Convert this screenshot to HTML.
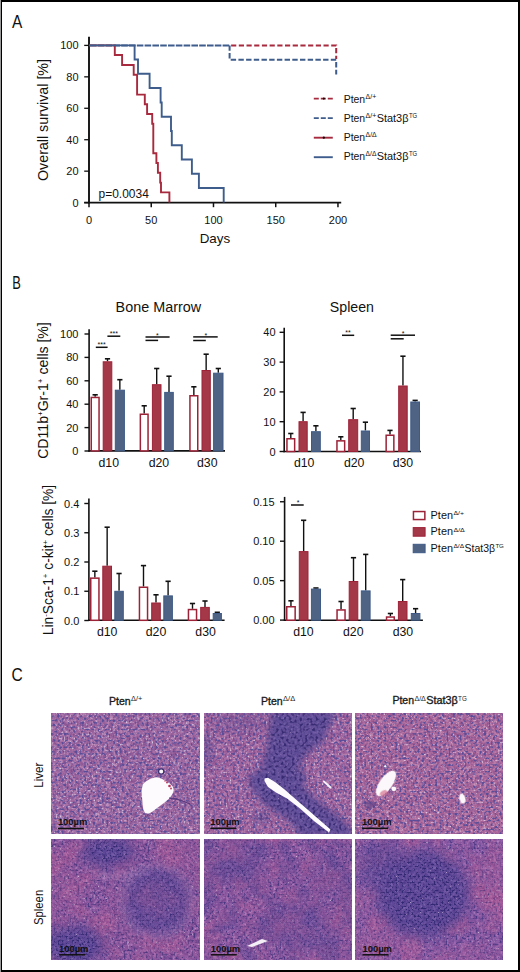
<!DOCTYPE html>
<html><head><meta charset="utf-8"><style>
html,body{margin:0;padding:0;background:#fff;}
svg{display:block;}
text{font-family:"Liberation Sans", sans-serif;}
</style></head><body>
<svg width="520" height="972" viewBox="0 0 520 972" fill="#111">
<defs><filter id="texL1" x="0" y="0" width="100%" height="100%" color-interpolation-filters="sRGB">
<feTurbulence type="fractalNoise" baseFrequency="0.3" numOctaves="3" seed="3"/>
<feColorMatrix type="matrix" values="1 0 0 0 0  1 0 0 0 0  1 0 0 0 0  0 0 0 0 1"/>
<feComponentTransfer result="b"><feFuncR type="table" tableValues=".48 .56 .63 .72 .85"/><feFuncG type="table" tableValues=".29 .34 .41 .52 .70"/><feFuncB type="table" tableValues=".54 .58 .63 .70 .84"/></feComponentTransfer>
<feTurbulence type="fractalNoise" baseFrequency="0.5" numOctaves="1" seed="53"/>
<feColorMatrix type="matrix" values="0 0 0 0 0.84  0 0 0 0 0.78  0 0 0 0 0.9  5.0 0 0 0 -3.050" result="l"/>
<feTurbulence type="fractalNoise" baseFrequency="0.45" numOctaves="1" seed="103"/>
<feColorMatrix type="matrix" values="0 0 0 0 0.35  0 0 0 0 0.3  0 0 0 0 0.6  5.0 0 0 0 -2.500" result="n"/>
<feMerge><feMergeNode in="b"/><feMergeNode in="l"/><feMergeNode in="n"/></feMerge>
</filter><filter id="texL2" x="0" y="0" width="100%" height="100%" color-interpolation-filters="sRGB">
<feTurbulence type="fractalNoise" baseFrequency="0.3" numOctaves="3" seed="11"/>
<feColorMatrix type="matrix" values="1 0 0 0 0  1 0 0 0 0  1 0 0 0 0  0 0 0 0 1"/>
<feComponentTransfer result="b"><feFuncR type="table" tableValues=".49 .57 .64 .73 .85"/><feFuncG type="table" tableValues=".28 .33 .40 .51 .69"/><feFuncB type="table" tableValues=".53 .57 .62 .69 .83"/></feComponentTransfer>
<feTurbulence type="fractalNoise" baseFrequency="0.5" numOctaves="1" seed="61"/>
<feColorMatrix type="matrix" values="0 0 0 0 0.86  0 0 0 0 0.76  0 0 0 0 0.88  5.0 0 0 0 -3.050" result="l"/>
<feTurbulence type="fractalNoise" baseFrequency="0.45" numOctaves="1" seed="111"/>
<feColorMatrix type="matrix" values="0 0 0 0 0.35  0 0 0 0 0.3  0 0 0 0 0.6  5.0 0 0 0 -2.500" result="n"/>
<feMerge><feMergeNode in="b"/><feMergeNode in="l"/><feMergeNode in="n"/></feMerge>
</filter><filter id="texL3" x="0" y="0" width="100%" height="100%" color-interpolation-filters="sRGB">
<feTurbulence type="fractalNoise" baseFrequency="0.3" numOctaves="3" seed="21"/>
<feColorMatrix type="matrix" values="1 0 0 0 0  1 0 0 0 0  1 0 0 0 0  0 0 0 0 1"/>
<feComponentTransfer result="b"><feFuncR type="table" tableValues=".51 .59 .67 .75 .86"/><feFuncG type="table" tableValues=".28 .34 .41 .52 .70"/><feFuncB type="table" tableValues=".51 .56 .61 .68 .82"/></feComponentTransfer>
<feTurbulence type="fractalNoise" baseFrequency="0.5" numOctaves="1" seed="71"/>
<feColorMatrix type="matrix" values="0 0 0 0 0.88  0 0 0 0 0.76  0 0 0 0 0.88  5.0 0 0 0 -3.050" result="l"/>
<feTurbulence type="fractalNoise" baseFrequency="0.45" numOctaves="1" seed="121"/>
<feColorMatrix type="matrix" values="0 0 0 0 0.35  0 0 0 0 0.3  0 0 0 0 0.6  5.0 0 0 0 -2.500" result="n"/>
<feMerge><feMergeNode in="b"/><feMergeNode in="l"/><feMergeNode in="n"/></feMerge>
</filter><filter id="texD" x="0" y="0" width="100%" height="100%" color-interpolation-filters="sRGB">
<feTurbulence type="fractalNoise" baseFrequency="0.35" numOctaves="3" seed="5"/>
<feColorMatrix type="matrix" values="1 0 0 0 0  1 0 0 0 0  1 0 0 0 0  0 0 0 0 1"/>
<feComponentTransfer result="b"><feFuncR type="table" tableValues=".30 .36 .42 .55"/><feFuncG type="table" tableValues=".24 .29 .34 .46"/><feFuncB type="table" tableValues=".52 .58 .63 .72"/></feComponentTransfer>
<feTurbulence type="fractalNoise" baseFrequency="0.5" numOctaves="1" seed="55"/>
<feColorMatrix type="matrix" values="0 0 0 0 0.86  0 0 0 0 0.78  0 0 0 0 0.9  5.0 0 0 0 -3.750" result="l"/>
<feTurbulence type="fractalNoise" baseFrequency="0.38" numOctaves="1" seed="105"/>
<feColorMatrix type="matrix" values="0 0 0 0 0.22  0 0 0 0 0.17  0 0 0 0 0.45  5.0 0 0 0 -2.500" result="n"/>
<feMerge><feMergeNode in="b"/><feMergeNode in="l"/><feMergeNode in="n"/></feMerge>
</filter><filter id="texS1" x="0" y="0" width="100%" height="100%" color-interpolation-filters="sRGB">
<feTurbulence type="fractalNoise" baseFrequency="0.3" numOctaves="3" seed="8"/>
<feColorMatrix type="matrix" values="1 0 0 0 0  1 0 0 0 0  1 0 0 0 0  0 0 0 0 1"/>
<feComponentTransfer result="b"><feFuncR type="table" tableValues=".38 .46 .54 .64 .78"/><feFuncG type="table" tableValues=".24 .28 .34 .43 .58"/><feFuncB type="table" tableValues=".52 .57 .62 .69 .80"/></feComponentTransfer>
<feTurbulence type="fractalNoise" baseFrequency="0.5" numOctaves="1" seed="58"/>
<feColorMatrix type="matrix" values="0 0 0 0 0.86  0 0 0 0 0.78  0 0 0 0 0.9  5.0 0 0 0 -3.300" result="l"/>
<feTurbulence type="fractalNoise" baseFrequency="0.5" numOctaves="1" seed="108"/>
<feColorMatrix type="matrix" values="0 0 0 0 0.3  0 0 0 0 0.22  0 0 0 0 0.5  5.0 0 0 0 -2.600" result="n"/>
<feMerge><feMergeNode in="b"/><feMergeNode in="l"/><feMergeNode in="n"/></feMerge>
</filter><filter id="texS2" x="0" y="0" width="100%" height="100%" color-interpolation-filters="sRGB">
<feTurbulence type="fractalNoise" baseFrequency="0.3" numOctaves="3" seed="13"/>
<feColorMatrix type="matrix" values="1 0 0 0 0  1 0 0 0 0  1 0 0 0 0  0 0 0 0 1"/>
<feComponentTransfer result="b"><feFuncR type="table" tableValues=".40 .48 .56 .66 .79"/><feFuncG type="table" tableValues=".25 .29 .35 .44 .59"/><feFuncB type="table" tableValues=".53 .58 .63 .70 .80"/></feComponentTransfer>
<feTurbulence type="fractalNoise" baseFrequency="0.5" numOctaves="1" seed="63"/>
<feColorMatrix type="matrix" values="0 0 0 0 0.86  0 0 0 0 0.78  0 0 0 0 0.9  5.0 0 0 0 -3.300" result="l"/>
<feTurbulence type="fractalNoise" baseFrequency="0.5" numOctaves="1" seed="113"/>
<feColorMatrix type="matrix" values="0 0 0 0 0.3  0 0 0 0 0.22  0 0 0 0 0.5  5.0 0 0 0 -2.650" result="n"/>
<feMerge><feMergeNode in="b"/><feMergeNode in="l"/><feMergeNode in="n"/></feMerge>
</filter><filter id="texS3" x="0" y="0" width="100%" height="100%" color-interpolation-filters="sRGB">
<feTurbulence type="fractalNoise" baseFrequency="0.3" numOctaves="3" seed="17"/>
<feColorMatrix type="matrix" values="1 0 0 0 0  1 0 0 0 0  1 0 0 0 0  0 0 0 0 1"/>
<feComponentTransfer result="b"><feFuncR type="table" tableValues=".38 .45 .53 .63 .77"/><feFuncG type="table" tableValues=".25 .29 .35 .43 .58"/><feFuncB type="table" tableValues=".54 .59 .64 .71 .81"/></feComponentTransfer>
<feTurbulence type="fractalNoise" baseFrequency="0.5" numOctaves="1" seed="67"/>
<feColorMatrix type="matrix" values="0 0 0 0 0.86  0 0 0 0 0.78  0 0 0 0 0.9  5.0 0 0 0 -3.300" result="l"/>
<feTurbulence type="fractalNoise" baseFrequency="0.5" numOctaves="1" seed="117"/>
<feColorMatrix type="matrix" values="0 0 0 0 0.29  0 0 0 0 0.22  0 0 0 0 0.52  5.0 0 0 0 -2.600" result="n"/>
<feMerge><feMergeNode in="b"/><feMergeNode in="l"/><feMergeNode in="n"/></feMerge>
</filter><filter id="texSD" x="0" y="0" width="100%" height="100%" color-interpolation-filters="sRGB">
<feTurbulence type="fractalNoise" baseFrequency="0.3" numOctaves="3" seed="19"/>
<feColorMatrix type="matrix" values="1 0 0 0 0  1 0 0 0 0  1 0 0 0 0  0 0 0 0 1"/>
<feComponentTransfer result="b"><feFuncR type="table" tableValues=".26 .32 .38 .46 .56"/><feFuncG type="table" tableValues=".20 .24 .29 .36 .46"/><feFuncB type="table" tableValues=".50 .55 .60 .66 .74"/></feComponentTransfer>
<feTurbulence type="fractalNoise" baseFrequency="0.5" numOctaves="1" seed="69"/>
<feColorMatrix type="matrix" values="0 0 0 0 0.86  0 0 0 0 0.78  0 0 0 0 0.9  5.0 0 0 0 -3.600" result="l"/>
<feTurbulence type="fractalNoise" baseFrequency="0.5" numOctaves="1" seed="119"/>
<feColorMatrix type="matrix" values="0 0 0 0 0.2  0 0 0 0 0.16  0 0 0 0 0.45  5.0 0 0 0 -2.500" result="n"/>
<feMerge><feMergeNode in="b"/><feMergeNode in="l"/><feMergeNode in="n"/></feMerge>
</filter><filter id="texSP" x="0" y="0" width="100%" height="100%" color-interpolation-filters="sRGB">
<feTurbulence type="fractalNoise" baseFrequency="0.3" numOctaves="3" seed="23"/>
<feColorMatrix type="matrix" values="1 0 0 0 0  1 0 0 0 0  1 0 0 0 0  0 0 0 0 1"/>
<feComponentTransfer result="b"><feFuncR type="table" tableValues=".50 .58 .66 .75 .84"/><feFuncG type="table" tableValues=".26 .30 .36 .45 .58"/><feFuncB type="table" tableValues=".50 .55 .60 .66 .74"/></feComponentTransfer>
<feTurbulence type="fractalNoise" baseFrequency="0.5" numOctaves="1" seed="73"/>
<feColorMatrix type="matrix" values="0 0 0 0 0.86  0 0 0 0 0.78  0 0 0 0 0.9  5.0 0 0 0 -3.300" result="l"/>
<feTurbulence type="fractalNoise" baseFrequency="0.5" numOctaves="1" seed="123"/>
<feColorMatrix type="matrix" values="0 0 0 0 0.36  0 0 0 0 0.22  0 0 0 0 0.48  5.0 0 0 0 -2.900" result="n"/>
<feMerge><feMergeNode in="b"/><feMergeNode in="l"/><feMergeNode in="n"/></feMerge>
</filter><filter id="texSL" x="0" y="0" width="100%" height="100%" color-interpolation-filters="sRGB">
<feTurbulence type="fractalNoise" baseFrequency="0.3" numOctaves="3" seed="29"/>
<feColorMatrix type="matrix" values="1 0 0 0 0  1 0 0 0 0  1 0 0 0 0  0 0 0 0 1"/>
<feComponentTransfer result="b"><feFuncR type="table" tableValues=".50 .58 .66 .74 .84"/><feFuncG type="table" tableValues=".38 .44 .50 .58 .70"/><feFuncB type="table" tableValues=".64 .68 .72 .78 .86"/></feComponentTransfer>
<feTurbulence type="fractalNoise" baseFrequency="0.5" numOctaves="1" seed="79"/>
<feColorMatrix type="matrix" values="0 0 0 0 0.86  0 0 0 0 0.78  0 0 0 0 0.9  5.0 0 0 0 -3.200" result="l"/>
<feTurbulence type="fractalNoise" baseFrequency="0.5" numOctaves="1" seed="129"/>
<feColorMatrix type="matrix" values="0 0 0 0 0.32  0 0 0 0 0.24  0 0 0 0 0.54  5.0 0 0 0 -2.800" result="n"/>
<feMerge><feMergeNode in="b"/><feMergeNode in="l"/><feMergeNode in="n"/></feMerge>
</filter><filter id="blur1"><feGaussianBlur stdDeviation="0.7"/></filter><filter id="blur3" x="-50%" y="-50%" width="200%" height="200%"><feGaussianBlur stdDeviation="3"/></filter><filter id="blur6" x="-50%" y="-50%" width="200%" height="200%"><feGaussianBlur stdDeviation="6"/></filter><filter id="blur9" x="-50%" y="-50%" width="200%" height="200%"><feGaussianBlur stdDeviation="9"/></filter><clipPath id="clipL1"><rect x="51" y="713" width="149" height="121"/></clipPath><clipPath id="clipL2"><rect x="204" y="713" width="148" height="121"/></clipPath><clipPath id="clipL3"><rect x="355" y="713" width="148" height="121"/></clipPath><clipPath id="clipS1"><rect x="51" y="839" width="149" height="121"/></clipPath><clipPath id="clipS2"><rect x="204" y="839" width="148" height="121"/></clipPath><clipPath id="clipS3"><rect x="355" y="839" width="148" height="121"/></clipPath><filter id="lfn" x="0" y="0" width="100%" height="100%" color-interpolation-filters="sRGB"><feTurbulence type="fractalNoise" baseFrequency="0.045" numOctaves="2" seed="31"/><feColorMatrix type="matrix" values="3.2 0 0 0 -1.25  3.2 0 0 0 -1.25  3.2 0 0 0 -1.25  0 0 0 0 1"/></filter><filter id="lfn2" x="0" y="0" width="100%" height="100%" color-interpolation-filters="sRGB"><feTurbulence type="fractalNoise" baseFrequency="0.05" numOctaves="2" seed="47"/><feColorMatrix type="matrix" values="3.2 0 0 0 -1.3  3.2 0 0 0 -1.3  3.2 0 0 0 -1.3  0 0 0 0 1"/></filter><mask id="mSpk" maskUnits="userSpaceOnUse" x="0" y="600" width="520" height="372"><rect x="51" y="839" width="452" height="121" filter="url(#lfn)" opacity="0.7"/></mask><mask id="mSdk" maskUnits="userSpaceOnUse" x="0" y="600" width="520" height="372"><rect x="51" y="839" width="452" height="121" filter="url(#lfn2)" opacity="0.5"/></mask><mask id="mLpk" maskUnits="userSpaceOnUse" x="0" y="600" width="520" height="372"><rect x="51" y="713" width="452" height="121" filter="url(#lfn)" opacity="0.45"/></mask><mask id="mL2" maskUnits="userSpaceOnUse" x="0" y="600" width="520" height="372"><path d="M272,711 L269,727 L268,741 L265,756 L261,770 L249.5,775 L249.5,787 L258,795 L261,801 L275,812 L283.7,816 L298,830 L298,836 L354,836 L352,830 L337.7,816 L318,801 L303.6,787 L306.4,773 L298,770 L304,756 L323,741 L329,727 L337,711 Z" fill="#fff" filter="url(#blur3)"/><ellipse cx="262" cy="818" rx="7" ry="5" fill="#fff" filter="url(#blur3)" opacity="0.7"/><ellipse cx="207" cy="750" rx="5" ry="20" fill="#fff" filter="url(#blur3)" opacity="0.5"/><ellipse cx="240" cy="722" rx="25" ry="10" fill="#fff" filter="url(#blur6)" opacity="0.35"/></mask><mask id="mS1d" maskUnits="userSpaceOnUse" x="0" y="600" width="520" height="372"><ellipse cx="108" cy="852" rx="26" ry="15" fill="#fff" filter="url(#blur6)"/><circle cx="157" cy="901" r="25" fill="none" stroke="#fff" stroke-width="12" filter="url(#blur6)"/><circle cx="157" cy="901" r="18" fill="#fff" filter="url(#blur6)" opacity="0.55"/><ellipse cx="74" cy="946" rx="30" ry="20" fill="#fff" filter="url(#blur6)"/></mask><mask id="mS1p" maskUnits="userSpaceOnUse" x="0" y="600" width="520" height="372"><ellipse cx="64" cy="885" rx="12" ry="22" fill="#fff" filter="url(#blur6)" opacity="0.45"/><ellipse cx="188" cy="858" rx="14" ry="20" fill="#fff" filter="url(#blur6)" opacity="0.4"/><ellipse cx="110" cy="925" rx="12" ry="8" fill="#fff" filter="url(#blur6)" opacity="0.3"/></mask><mask id="mS1l" maskUnits="userSpaceOnUse" x="0" y="600" width="520" height="372"><circle cx="157" cy="901" r="34" fill="none" stroke="#fff" stroke-width="6" filter="url(#blur3)" opacity="0.5"/><path d="M95,875 Q130,880 150,868" fill="none" stroke="#fff" stroke-width="8" filter="url(#blur3)" opacity="0.4"/></mask><mask id="mS2d" maskUnits="userSpaceOnUse" x="0" y="600" width="520" height="372"><ellipse cx="240" cy="865" rx="30" ry="22" fill="#fff" filter="url(#blur9)" opacity="0.35"/><ellipse cx="300" cy="930" rx="40" ry="22" fill="#fff" filter="url(#blur9)" opacity="0.35"/><ellipse cx="330" cy="880" rx="20" ry="25" fill="#fff" filter="url(#blur9)" opacity="0.25"/></mask><mask id="mS3d" maskUnits="userSpaceOnUse" x="0" y="600" width="520" height="372"><ellipse cx="423" cy="894" rx="46" ry="43" fill="#fff" filter="url(#blur6)"/><ellipse cx="382" cy="866" rx="22" ry="26" fill="#fff" filter="url(#blur6)" opacity="0.6"/></mask><mask id="mS3p" maskUnits="userSpaceOnUse" x="0" y="600" width="520" height="372"><ellipse cx="494" cy="885" rx="12" ry="40" fill="#fff" filter="url(#blur6)" opacity="0.6"/><ellipse cx="372" cy="945" rx="24" ry="14" fill="#fff" filter="url(#blur6)" opacity="0.55"/><ellipse cx="362" cy="905" rx="9" ry="15" fill="#fff" filter="url(#blur6)" opacity="0.45"/><ellipse cx="455" cy="955" rx="30" ry="8" fill="#fff" filter="url(#blur6)" opacity="0.4"/></mask></defs>
<rect x="0" y="0" width="520" height="972" fill="#000"/>
<rect x="0" y="0" width="1" height="972" fill="#9a9a9a"/>
<rect x="2" y="2" width="516" height="968" fill="#fff"/>
<text x="12.00" y="27.50" font-size="18" textLength="10.30" lengthAdjust="spacingAndGlyphs" >A</text>
<line x1="89.00" y1="36.70" x2="89.00" y2="203.40" stroke="#111" stroke-width="1.9" />
<line x1="84.20" y1="202.60" x2="341.20" y2="202.60" stroke="#111" stroke-width="1.9" />
<line x1="84.20" y1="45.40" x2="89.00" y2="45.40" stroke="#111" stroke-width="1.3" />
<text x="78.60" y="49.30" font-size="11" text-anchor="end" >100</text>
<line x1="84.20" y1="76.84" x2="89.00" y2="76.84" stroke="#111" stroke-width="1.3" />
<text x="78.60" y="80.74" font-size="11" text-anchor="end" >80</text>
<line x1="84.20" y1="108.28" x2="89.00" y2="108.28" stroke="#111" stroke-width="1.3" />
<text x="78.60" y="112.18" font-size="11" text-anchor="end" >60</text>
<line x1="84.20" y1="139.72" x2="89.00" y2="139.72" stroke="#111" stroke-width="1.3" />
<text x="78.60" y="143.62" font-size="11" text-anchor="end" >40</text>
<line x1="84.20" y1="171.16" x2="89.00" y2="171.16" stroke="#111" stroke-width="1.3" />
<text x="78.60" y="175.06" font-size="11" text-anchor="end" >20</text>
<line x1="84.20" y1="202.60" x2="89.00" y2="202.60" stroke="#111" stroke-width="1.3" />
<text x="78.60" y="206.50" font-size="11" text-anchor="end" >0</text>
<line x1="89.00" y1="202.60" x2="89.00" y2="207.20" stroke="#111" stroke-width="1.5" />
<text x="89.00" y="223.80" font-size="11" text-anchor="middle" >0</text>
<line x1="151.24" y1="202.60" x2="151.24" y2="207.20" stroke="#111" stroke-width="1.5" />
<text x="151.24" y="223.80" font-size="11" text-anchor="middle" >50</text>
<line x1="213.48" y1="202.60" x2="213.48" y2="207.20" stroke="#111" stroke-width="1.5" />
<text x="213.48" y="223.80" font-size="11" text-anchor="middle" >100</text>
<line x1="275.72" y1="202.60" x2="275.72" y2="207.20" stroke="#111" stroke-width="1.5" />
<text x="275.72" y="223.80" font-size="11" text-anchor="middle" >150</text>
<line x1="337.96" y1="202.60" x2="337.96" y2="207.20" stroke="#111" stroke-width="1.5" />
<text x="337.96" y="223.80" font-size="11" text-anchor="middle" >200</text>
<text x="199.70" y="243.20" font-size="13.5" textLength="30.50" lengthAdjust="spacingAndGlyphs" >Days</text>
<text x="98.60" y="197.60" font-size="12" textLength="50.20" lengthAdjust="spacingAndGlyphs" >p=0.0034</text>
<text transform="translate(48.3,120) rotate(-90)" font-size="14" text-anchor="middle" textLength="122" lengthAdjust="spacingAndGlyphs">Overall survival [%]</text>
<path d="M229.6,45.4 H336.2 V59" fill="none" stroke="#a82a3e" stroke-width="2" stroke-dasharray="5.2 2.5" stroke-dashoffset="-1.5"/>
<path d="M89,45.4 H229.6" fill="none" stroke="#3f5d8c" stroke-width="2" stroke-dasharray="6.6 1.2" stroke-dashoffset="-1"/>
<path d="M229.6,45.4 V59.7 H336.2 V74.5" fill="none" stroke="#3f5d8c" stroke-width="2" stroke-dasharray="5.4 2.3"/>
<path d="M89,45.4 H114.8 V55 H122.1 V65 H133.7 V74.8 H137.1 V94.6 H144.8 V104.2 H147.1 V114 H152.2 V123.7 H153.3 V153.3 H156.4 V163 H157.9 V172.8 H160.2 V182.6 H161 V192.4 H169.4 V202.4" fill="none" stroke="#a82a3e" stroke-width="1.9"/>
<path d="M89,45.4 H134.6 V59.5 H138 V73.7 H149.6 V88 H160.6 V102.5 H161.7 V116.8 H171 V131 H171.8 V145.3 H181.8 V159.5 H191.9 V173.8 H198.9 V188 H223.7 V202.4" fill="none" stroke="#3f5d8c" stroke-width="1.9"/>
<line x1="313.8" y1="98.6" x2="332.8" y2="98.6" stroke="#a82a3e" stroke-width="1.9" stroke-dasharray="5 2"/>
<circle cx="323.8" cy="98.6" r="1.1" fill="#000"/>
<line x1="313.8" y1="118.1" x2="332.8" y2="118.1" stroke="#3f5d8c" stroke-width="1.9" stroke-dasharray="5 2"/>
<line x1="313.8" y1="137.7" x2="332.8" y2="137.7" stroke="#a82a3e" stroke-width="1.9"/>
<circle cx="323.8" cy="137.7" r="1.1" fill="#000"/>
<line x1="313.8" y1="157.2" x2="332.8" y2="157.2" stroke="#3f5d8c" stroke-width="1.9"/>
<text x="343.70" y="102.50" font-size="11"><tspan textLength="21.5" lengthAdjust="spacingAndGlyphs">Pten</tspan><tspan x="365.60" y="98.54" font-size="6.8" textLength="10.7" lengthAdjust="spacingAndGlyphs">Δ/+</tspan></text>
<text x="343.70" y="121.50" font-size="11"><tspan textLength="21.5" lengthAdjust="spacingAndGlyphs">Pten</tspan><tspan x="365.60" y="117.54" font-size="6.8" textLength="10.8" lengthAdjust="spacingAndGlyphs">Δ/+</tspan><tspan x="376.70" y="121.50" textLength="31.8" lengthAdjust="spacingAndGlyphs">Stat3β</tspan><tspan x="408.90" y="117.54" font-size="6.8" textLength="8.2" lengthAdjust="spacingAndGlyphs">TG</tspan></text>
<text x="343.70" y="141.20" font-size="11"><tspan textLength="21.5" lengthAdjust="spacingAndGlyphs">Pten</tspan><tspan x="365.60" y="137.24" font-size="6.8" textLength="11.1" lengthAdjust="spacingAndGlyphs">Δ/Δ</tspan></text>
<text x="343.70" y="160.40" font-size="11"><tspan textLength="21.5" lengthAdjust="spacingAndGlyphs">Pten</tspan><tspan x="365.60" y="156.44" font-size="6.8" textLength="10.8" lengthAdjust="spacingAndGlyphs">Δ/Δ</tspan><tspan x="376.70" y="160.40" textLength="31.8" lengthAdjust="spacingAndGlyphs">Stat3β</tspan><tspan x="408.90" y="156.44" font-size="6.8" textLength="8.2" lengthAdjust="spacingAndGlyphs">TG</tspan></text>
<text x="12.20" y="288.70" font-size="18" textLength="8.60" lengthAdjust="spacingAndGlyphs" >B</text>
<text x="115.60" y="311.90" font-size="14" textLength="85.50" lengthAdjust="spacingAndGlyphs" >Bone Marrow</text>
<text x="329.80" y="311.60" font-size="14" textLength="44.20" lengthAdjust="spacingAndGlyphs" >Spleen</text>
<line x1="89.10" y1="329.20" x2="89.10" y2="451.70" stroke="#111" stroke-width="1.6" />
<line x1="88.30" y1="450.90" x2="225.00" y2="450.90" stroke="#111" stroke-width="1.6" />
<line x1="84.50" y1="334.00" x2="89.10" y2="334.00" stroke="#111" stroke-width="1.4" />
<text x="78.40" y="338.00" font-size="11" text-anchor="end" >100</text>
<line x1="84.50" y1="357.40" x2="89.10" y2="357.40" stroke="#111" stroke-width="1.4" />
<text x="78.40" y="361.40" font-size="11" text-anchor="end" >80</text>
<line x1="84.50" y1="380.80" x2="89.10" y2="380.80" stroke="#111" stroke-width="1.4" />
<text x="78.40" y="384.80" font-size="11" text-anchor="end" >60</text>
<line x1="84.50" y1="404.20" x2="89.10" y2="404.20" stroke="#111" stroke-width="1.4" />
<text x="78.40" y="408.20" font-size="11" text-anchor="end" >40</text>
<line x1="84.50" y1="427.60" x2="89.10" y2="427.60" stroke="#111" stroke-width="1.4" />
<text x="78.40" y="431.60" font-size="11" text-anchor="end" >20</text>
<line x1="84.50" y1="451.00" x2="89.10" y2="451.00" stroke="#111" stroke-width="1.4" />
<text x="78.40" y="455.00" font-size="11" text-anchor="end" >0</text>
<line x1="95.15" y1="394.80" x2="95.15" y2="396.70" stroke="#111" stroke-width="1.4" />
<line x1="92.55" y1="394.80" x2="97.75" y2="394.80" stroke="#111" stroke-width="1.6" />
<rect x="91.25" y="397.45" width="7.80" height="53.45" fill="#fff" stroke="#9c2238" stroke-width="1.5"/>
<line x1="107.50" y1="358.80" x2="107.50" y2="361.30" stroke="#111" stroke-width="1.4" />
<line x1="104.90" y1="358.80" x2="110.10" y2="358.80" stroke="#111" stroke-width="1.6" />
<rect x="103.20" y="361.80" width="8.60" height="89.10" fill="#a43848" stroke="#9c2238" stroke-width="1"/>
<line x1="119.85" y1="379.70" x2="119.85" y2="389.70" stroke="#111" stroke-width="1.4" />
<line x1="117.25" y1="379.70" x2="122.45" y2="379.70" stroke="#111" stroke-width="1.6" />
<rect x="115.30" y="390.20" width="9.10" height="60.70" fill="#4f6385" stroke="#3f5a86" stroke-width="1"/>
<line x1="144.20" y1="405.80" x2="144.20" y2="413.50" stroke="#111" stroke-width="1.4" />
<line x1="141.60" y1="405.80" x2="146.80" y2="405.80" stroke="#111" stroke-width="1.6" />
<rect x="140.35" y="414.25" width="7.70" height="36.65" fill="#fff" stroke="#9c2238" stroke-width="1.5"/>
<line x1="156.70" y1="368.50" x2="156.70" y2="384.20" stroke="#111" stroke-width="1.4" />
<line x1="154.10" y1="368.50" x2="159.30" y2="368.50" stroke="#111" stroke-width="1.6" />
<rect x="152.40" y="384.70" width="8.60" height="66.20" fill="#a43848" stroke="#9c2238" stroke-width="1"/>
<line x1="169.00" y1="376.20" x2="169.00" y2="391.90" stroke="#111" stroke-width="1.4" />
<line x1="166.40" y1="376.20" x2="171.60" y2="376.20" stroke="#111" stroke-width="1.6" />
<rect x="164.70" y="392.40" width="8.60" height="58.50" fill="#4f6385" stroke="#3f5a86" stroke-width="1"/>
<line x1="193.85" y1="386.80" x2="193.85" y2="395.00" stroke="#111" stroke-width="1.4" />
<line x1="191.25" y1="386.80" x2="196.45" y2="386.80" stroke="#111" stroke-width="1.6" />
<rect x="189.95" y="395.75" width="7.80" height="55.15" fill="#fff" stroke="#9c2238" stroke-width="1.5"/>
<line x1="206.15" y1="354.20" x2="206.15" y2="370.00" stroke="#111" stroke-width="1.4" />
<line x1="203.55" y1="354.20" x2="208.75" y2="354.20" stroke="#111" stroke-width="1.6" />
<rect x="202.00" y="370.50" width="8.30" height="80.40" fill="#a43848" stroke="#9c2238" stroke-width="1"/>
<line x1="218.30" y1="368.50" x2="218.30" y2="372.70" stroke="#111" stroke-width="1.4" />
<line x1="215.70" y1="368.50" x2="220.90" y2="368.50" stroke="#111" stroke-width="1.6" />
<rect x="213.60" y="373.20" width="9.40" height="77.70" fill="#4f6385" stroke="#3f5a86" stroke-width="1"/>
<text x="108.80" y="467.30" font-size="12.3" text-anchor="middle" >d10</text>
<text x="158.90" y="467.30" font-size="12.3" text-anchor="middle" >d20</text>
<text x="207.30" y="467.30" font-size="12.3" text-anchor="middle" >d30</text>
<line x1="95.80" y1="347.30" x2="107.60" y2="347.30" stroke="#111" stroke-width="1.5" />
<text x="101.70" y="347.00" font-size="7" text-anchor="middle" >***</text>
<line x1="107.40" y1="336.20" x2="120.30" y2="336.20" stroke="#111" stroke-width="1.5" />
<text x="113.80" y="335.90" font-size="7" text-anchor="middle" >***</text>
<line x1="145.50" y1="340.40" x2="158.10" y2="340.40" stroke="#111" stroke-width="1.5" />
<line x1="145.50" y1="337.00" x2="169.60" y2="337.00" stroke="#111" stroke-width="1.5" />
<text x="157.30" y="338.00" font-size="7" text-anchor="middle" >*</text>
<line x1="193.20" y1="340.50" x2="205.80" y2="340.50" stroke="#111" stroke-width="1.5" />
<line x1="193.20" y1="336.90" x2="217.70" y2="336.90" stroke="#111" stroke-width="1.5" />
<text x="205.80" y="337.80" font-size="7" text-anchor="middle" >*</text>
<text transform="translate(48.3,390.5) rotate(-90)" font-size="14" text-anchor="middle" textLength="136.6" lengthAdjust="spacingAndGlyphs">CD11b<tspan font-size="8" dy="-5">+</tspan><tspan dy="5">Gr-1</tspan><tspan font-size="8" dy="-5">+</tspan><tspan dy="5"> cells [%]</tspan></text>
<line x1="284.20" y1="327.80" x2="284.20" y2="452.30" stroke="#111" stroke-width="1.6" />
<line x1="283.40" y1="451.50" x2="421.00" y2="451.50" stroke="#111" stroke-width="1.6" />
<line x1="279.60" y1="332.30" x2="284.20" y2="332.30" stroke="#111" stroke-width="1.4" />
<text x="275.60" y="336.30" font-size="11" text-anchor="end" >40</text>
<line x1="279.60" y1="362.10" x2="284.20" y2="362.10" stroke="#111" stroke-width="1.4" />
<text x="275.60" y="366.10" font-size="11" text-anchor="end" >30</text>
<line x1="279.60" y1="391.90" x2="284.20" y2="391.90" stroke="#111" stroke-width="1.4" />
<text x="275.60" y="395.90" font-size="11" text-anchor="end" >20</text>
<line x1="279.60" y1="421.70" x2="284.20" y2="421.70" stroke="#111" stroke-width="1.4" />
<text x="275.60" y="425.70" font-size="11" text-anchor="end" >10</text>
<line x1="279.60" y1="451.50" x2="284.20" y2="451.50" stroke="#111" stroke-width="1.4" />
<text x="275.60" y="455.50" font-size="11" text-anchor="end" >0</text>
<line x1="290.80" y1="433.50" x2="290.80" y2="438.00" stroke="#111" stroke-width="1.4" />
<line x1="288.20" y1="433.50" x2="293.40" y2="433.50" stroke="#111" stroke-width="1.6" />
<rect x="286.95" y="438.75" width="7.70" height="12.75" fill="#fff" stroke="#9c2238" stroke-width="1.5"/>
<line x1="303.10" y1="412.40" x2="303.10" y2="421.20" stroke="#111" stroke-width="1.4" />
<line x1="300.50" y1="412.40" x2="305.70" y2="412.40" stroke="#111" stroke-width="1.6" />
<rect x="299.00" y="421.70" width="8.20" height="29.80" fill="#a43848" stroke="#9c2238" stroke-width="1"/>
<line x1="315.90" y1="425.80" x2="315.90" y2="431.20" stroke="#111" stroke-width="1.4" />
<line x1="313.30" y1="425.80" x2="318.50" y2="425.80" stroke="#111" stroke-width="1.6" />
<rect x="311.50" y="431.70" width="8.80" height="19.80" fill="#4f6385" stroke="#3f5a86" stroke-width="1"/>
<line x1="340.80" y1="436.80" x2="340.80" y2="440.10" stroke="#111" stroke-width="1.4" />
<line x1="338.20" y1="436.80" x2="343.40" y2="436.80" stroke="#111" stroke-width="1.6" />
<rect x="336.95" y="440.85" width="7.70" height="10.65" fill="#fff" stroke="#9c2238" stroke-width="1.5"/>
<line x1="353.20" y1="408.50" x2="353.20" y2="419.20" stroke="#111" stroke-width="1.4" />
<line x1="350.60" y1="408.50" x2="355.80" y2="408.50" stroke="#111" stroke-width="1.6" />
<rect x="348.70" y="419.70" width="9.00" height="31.80" fill="#a43848" stroke="#9c2238" stroke-width="1"/>
<line x1="365.40" y1="422.20" x2="365.40" y2="430.50" stroke="#111" stroke-width="1.4" />
<line x1="362.80" y1="422.20" x2="368.00" y2="422.20" stroke="#111" stroke-width="1.6" />
<rect x="361.30" y="431.00" width="8.20" height="20.50" fill="#4f6385" stroke="#3f5a86" stroke-width="1"/>
<line x1="390.00" y1="430.40" x2="390.00" y2="434.50" stroke="#111" stroke-width="1.4" />
<line x1="387.40" y1="430.40" x2="392.60" y2="430.40" stroke="#111" stroke-width="1.6" />
<rect x="386.15" y="435.25" width="7.70" height="16.25" fill="#fff" stroke="#9c2238" stroke-width="1.5"/>
<line x1="402.95" y1="356.20" x2="402.95" y2="385.50" stroke="#111" stroke-width="1.4" />
<line x1="400.35" y1="356.20" x2="405.55" y2="356.20" stroke="#111" stroke-width="1.6" />
<rect x="398.70" y="386.00" width="8.50" height="65.50" fill="#a43848" stroke="#9c2238" stroke-width="1"/>
<line x1="415.15" y1="400.40" x2="415.15" y2="401.50" stroke="#111" stroke-width="1.4" />
<line x1="412.55" y1="400.40" x2="417.75" y2="400.40" stroke="#111" stroke-width="1.6" />
<rect x="410.80" y="402.00" width="8.70" height="49.50" fill="#4f6385" stroke="#3f5a86" stroke-width="1"/>
<text x="304.20" y="467.30" font-size="12.3" text-anchor="middle" >d10</text>
<text x="354.20" y="467.30" font-size="12.3" text-anchor="middle" >d20</text>
<text x="402.90" y="467.30" font-size="12.3" text-anchor="middle" >d30</text>
<line x1="342.00" y1="335.30" x2="354.20" y2="335.30" stroke="#111" stroke-width="1.5" />
<text x="348.10" y="334.50" font-size="7" text-anchor="middle" >**</text>
<line x1="390.70" y1="335.20" x2="415.00" y2="335.20" stroke="#111" stroke-width="1.5" />
<line x1="390.70" y1="338.80" x2="403.70" y2="338.80" stroke="#111" stroke-width="1.5" />
<text x="403.20" y="336.00" font-size="7" text-anchor="middle" >*</text>
<line x1="88.90" y1="498.50" x2="88.90" y2="621.10" stroke="#111" stroke-width="1.6" />
<line x1="88.10" y1="620.30" x2="224.60" y2="620.30" stroke="#111" stroke-width="1.6" />
<line x1="84.30" y1="503.50" x2="88.90" y2="503.50" stroke="#111" stroke-width="1.4" />
<text x="79.40" y="507.50" font-size="11" text-anchor="end" >0.4</text>
<line x1="84.30" y1="532.75" x2="88.90" y2="532.75" stroke="#111" stroke-width="1.4" />
<text x="79.40" y="536.75" font-size="11" text-anchor="end" >0.3</text>
<line x1="84.30" y1="562.00" x2="88.90" y2="562.00" stroke="#111" stroke-width="1.4" />
<text x="79.40" y="566.00" font-size="11" text-anchor="end" >0.2</text>
<line x1="84.30" y1="591.25" x2="88.90" y2="591.25" stroke="#111" stroke-width="1.4" />
<text x="79.40" y="595.25" font-size="11" text-anchor="end" >0.1</text>
<line x1="84.30" y1="620.50" x2="88.90" y2="620.50" stroke="#111" stroke-width="1.4" />
<text x="79.40" y="624.50" font-size="11" text-anchor="end" >0.0</text>
<line x1="94.85" y1="571.20" x2="94.85" y2="577.40" stroke="#111" stroke-width="1.4" />
<line x1="92.25" y1="571.20" x2="97.45" y2="571.20" stroke="#111" stroke-width="1.6" />
<rect x="90.75" y="578.15" width="8.20" height="42.15" fill="#fff" stroke="#9c2238" stroke-width="1.5"/>
<line x1="107.15" y1="527.20" x2="107.15" y2="565.70" stroke="#111" stroke-width="1.4" />
<line x1="104.55" y1="527.20" x2="109.75" y2="527.20" stroke="#111" stroke-width="1.6" />
<rect x="102.80" y="566.20" width="8.70" height="54.10" fill="#a43848" stroke="#9c2238" stroke-width="1"/>
<line x1="119.05" y1="573.50" x2="119.05" y2="590.80" stroke="#111" stroke-width="1.4" />
<line x1="116.45" y1="573.50" x2="121.65" y2="573.50" stroke="#111" stroke-width="1.6" />
<rect x="114.80" y="591.30" width="8.50" height="29.00" fill="#4f6385" stroke="#3f5a86" stroke-width="1"/>
<line x1="143.50" y1="565.60" x2="143.50" y2="586.50" stroke="#111" stroke-width="1.4" />
<line x1="140.90" y1="565.60" x2="146.10" y2="565.60" stroke="#111" stroke-width="1.6" />
<rect x="139.45" y="587.25" width="8.10" height="33.05" fill="#fff" stroke="#9c2238" stroke-width="1.5"/>
<line x1="156.00" y1="594.80" x2="156.00" y2="602.50" stroke="#111" stroke-width="1.4" />
<line x1="153.40" y1="594.80" x2="158.60" y2="594.80" stroke="#111" stroke-width="1.6" />
<rect x="151.70" y="603.00" width="8.60" height="17.30" fill="#a43848" stroke="#9c2238" stroke-width="1"/>
<line x1="168.10" y1="581.30" x2="168.10" y2="595.40" stroke="#111" stroke-width="1.4" />
<line x1="165.50" y1="581.30" x2="170.70" y2="581.30" stroke="#111" stroke-width="1.6" />
<rect x="163.80" y="595.90" width="8.60" height="24.40" fill="#4f6385" stroke="#3f5a86" stroke-width="1"/>
<line x1="192.50" y1="603.50" x2="192.50" y2="608.80" stroke="#111" stroke-width="1.4" />
<line x1="189.90" y1="603.50" x2="195.10" y2="603.50" stroke="#111" stroke-width="1.6" />
<rect x="188.45" y="609.55" width="8.10" height="10.75" fill="#fff" stroke="#9c2238" stroke-width="1.5"/>
<line x1="205.00" y1="601.00" x2="205.00" y2="606.90" stroke="#111" stroke-width="1.4" />
<line x1="202.40" y1="601.00" x2="207.60" y2="601.00" stroke="#111" stroke-width="1.6" />
<rect x="200.70" y="607.40" width="8.60" height="12.90" fill="#a43848" stroke="#9c2238" stroke-width="1"/>
<line x1="217.30" y1="612.30" x2="217.30" y2="613.00" stroke="#111" stroke-width="1.4" />
<line x1="214.70" y1="612.30" x2="219.90" y2="612.30" stroke="#111" stroke-width="1.6" />
<rect x="213.20" y="613.50" width="8.20" height="6.80" fill="#4f6385" stroke="#3f5a86" stroke-width="1"/>
<text x="107.20" y="636.20" font-size="12.3" text-anchor="middle" >d10</text>
<text x="156.00" y="636.20" font-size="12.3" text-anchor="middle" >d20</text>
<text x="205.60" y="636.20" font-size="12.3" text-anchor="middle" >d30</text>
<text transform="translate(52.5,560) rotate(-90)" font-size="14" text-anchor="middle" textLength="150.3" lengthAdjust="spacingAndGlyphs">Lin<tspan font-size="8" dy="-5">-</tspan><tspan dy="5">Sca-1</tspan><tspan font-size="8" dy="-5">+</tspan><tspan dy="5"> c-kit</tspan><tspan font-size="8" dy="-5">+</tspan><tspan dy="5"> cells [%]</tspan></text>
<line x1="284.60" y1="496.90" x2="284.60" y2="621.00" stroke="#111" stroke-width="1.6" />
<line x1="283.80" y1="620.20" x2="422.90" y2="620.20" stroke="#111" stroke-width="1.6" />
<line x1="280.00" y1="501.75" x2="284.60" y2="501.75" stroke="#111" stroke-width="1.4" />
<text x="274.60" y="505.75" font-size="11" text-anchor="end" >0.15</text>
<line x1="280.00" y1="541.20" x2="284.60" y2="541.20" stroke="#111" stroke-width="1.4" />
<text x="274.60" y="545.20" font-size="11" text-anchor="end" >0.10</text>
<line x1="280.00" y1="580.65" x2="284.60" y2="580.65" stroke="#111" stroke-width="1.4" />
<text x="274.60" y="584.65" font-size="11" text-anchor="end" >0.05</text>
<line x1="280.00" y1="620.10" x2="284.60" y2="620.10" stroke="#111" stroke-width="1.4" />
<text x="274.60" y="624.10" font-size="11" text-anchor="end" >0.00</text>
<line x1="290.95" y1="600.80" x2="290.95" y2="606.00" stroke="#111" stroke-width="1.4" />
<line x1="288.35" y1="600.80" x2="293.55" y2="600.80" stroke="#111" stroke-width="1.6" />
<rect x="286.75" y="606.75" width="8.40" height="13.45" fill="#fff" stroke="#9c2238" stroke-width="1.5"/>
<line x1="303.65" y1="520.30" x2="303.65" y2="551.10" stroke="#111" stroke-width="1.4" />
<line x1="301.05" y1="520.30" x2="306.25" y2="520.30" stroke="#111" stroke-width="1.6" />
<rect x="299.30" y="551.60" width="8.70" height="68.60" fill="#a43848" stroke="#9c2238" stroke-width="1"/>
<line x1="315.95" y1="588.00" x2="315.95" y2="588.60" stroke="#111" stroke-width="1.4" />
<line x1="313.35" y1="588.00" x2="318.55" y2="588.00" stroke="#111" stroke-width="1.6" />
<rect x="311.40" y="589.10" width="9.10" height="31.10" fill="#4f6385" stroke="#3f5a86" stroke-width="1"/>
<line x1="341.05" y1="601.50" x2="341.05" y2="609.20" stroke="#111" stroke-width="1.4" />
<line x1="338.45" y1="601.50" x2="343.65" y2="601.50" stroke="#111" stroke-width="1.6" />
<rect x="337.05" y="609.95" width="8.00" height="10.25" fill="#fff" stroke="#9c2238" stroke-width="1.5"/>
<line x1="353.50" y1="557.70" x2="353.50" y2="581.00" stroke="#111" stroke-width="1.4" />
<line x1="350.90" y1="557.70" x2="356.10" y2="557.70" stroke="#111" stroke-width="1.6" />
<rect x="349.20" y="581.50" width="8.60" height="38.70" fill="#a43848" stroke="#9c2238" stroke-width="1"/>
<line x1="365.70" y1="554.40" x2="365.70" y2="590.40" stroke="#111" stroke-width="1.4" />
<line x1="363.10" y1="554.40" x2="368.30" y2="554.40" stroke="#111" stroke-width="1.6" />
<rect x="361.30" y="590.90" width="8.80" height="29.30" fill="#4f6385" stroke="#3f5a86" stroke-width="1"/>
<line x1="390.40" y1="613.50" x2="390.40" y2="616.30" stroke="#111" stroke-width="1.4" />
<line x1="387.80" y1="613.50" x2="393.00" y2="613.50" stroke="#111" stroke-width="1.6" />
<rect x="386.55" y="617.05" width="7.70" height="3.15" fill="#fff" stroke="#9c2238" stroke-width="1.5"/>
<line x1="402.70" y1="579.60" x2="402.70" y2="601.00" stroke="#111" stroke-width="1.4" />
<line x1="400.10" y1="579.60" x2="405.30" y2="579.60" stroke="#111" stroke-width="1.6" />
<rect x="398.40" y="601.50" width="8.60" height="18.70" fill="#a43848" stroke="#9c2238" stroke-width="1"/>
<line x1="415.60" y1="608.70" x2="415.60" y2="613.00" stroke="#111" stroke-width="1.4" />
<line x1="413.00" y1="608.70" x2="418.20" y2="608.70" stroke="#111" stroke-width="1.6" />
<rect x="411.30" y="613.50" width="8.60" height="6.70" fill="#4f6385" stroke="#3f5a86" stroke-width="1"/>
<text x="303.40" y="636.20" font-size="12.3" text-anchor="middle" >d10</text>
<text x="353.30" y="636.20" font-size="12.3" text-anchor="middle" >d20</text>
<text x="402.90" y="636.20" font-size="12.3" text-anchor="middle" >d30</text>
<line x1="291.00" y1="505.00" x2="303.70" y2="505.00" stroke="#111" stroke-width="1.5" />
<text x="298.10" y="504.50" font-size="7" text-anchor="middle" >*</text>
<rect x="413.45" y="511.55" width="11.4" height="8.0" fill="#fff" stroke="#9c2238" stroke-width="1.5"/>
<rect x="413.2" y="527.6" width="11.9" height="8.6" fill="#a43848" stroke="#9c2238" stroke-width="1"/>
<rect x="413.2" y="544.3" width="11.9" height="8.4" fill="#4f6385" stroke="#3f5a86" stroke-width="1"/>
<text x="430.60" y="518.70" font-size="11"><tspan textLength="22.4" lengthAdjust="spacingAndGlyphs">Pten</tspan><tspan x="453.40" y="515.29" font-size="5.6" textLength="10.6" lengthAdjust="spacingAndGlyphs">Δ/+</tspan></text>
<text x="430.60" y="535.00" font-size="11"><tspan textLength="22.4" lengthAdjust="spacingAndGlyphs">Pten</tspan><tspan x="453.40" y="531.59" font-size="5.6" textLength="11.5" lengthAdjust="spacingAndGlyphs">Δ/Δ</tspan></text>
<text x="430.60" y="551.60" font-size="11"><tspan textLength="22.4" lengthAdjust="spacingAndGlyphs">Pten</tspan><tspan x="453.40" y="548.19" font-size="5.6" textLength="10.8" lengthAdjust="spacingAndGlyphs">Δ/Δ</tspan><tspan x="464.50" y="551.60" textLength="30.5" lengthAdjust="spacingAndGlyphs">Stat3β</tspan><tspan x="495.40" y="548.19" font-size="5.6" textLength="8.5" lengthAdjust="spacingAndGlyphs">TG</tspan></text>
<text x="11.40" y="680.90" font-size="18" textLength="11.20" lengthAdjust="spacingAndGlyphs" >C</text>
<text x="109.00" y="704.50" font-size="11" fill="#1a1a1a" stroke="#1a1a1a" stroke-width="0.35"><tspan textLength="21.7" lengthAdjust="spacingAndGlyphs">Pten</tspan><tspan x="131.10" y="700.76" font-size="6.5" textLength="11.3" lengthAdjust="spacingAndGlyphs" stroke="none">Δ/+</tspan></text>
<text x="261.00" y="704.50" font-size="11" fill="#1a1a1a" stroke="#1a1a1a" stroke-width="0.35"><tspan textLength="21.7" lengthAdjust="spacingAndGlyphs">Pten</tspan><tspan x="283.10" y="700.76" font-size="6.5" textLength="12.1" lengthAdjust="spacingAndGlyphs" stroke="none">Δ/Δ</tspan></text>
<text x="392.40" y="704.30" font-size="11" fill="#1a1a1a" stroke="#1a1a1a" stroke-width="0.35"><tspan textLength="21.6" lengthAdjust="spacingAndGlyphs">Pten</tspan><tspan x="414.40" y="700.56" font-size="6.5" textLength="11.5" lengthAdjust="spacingAndGlyphs" stroke="none">Δ/Δ</tspan><tspan x="426.20" y="704.30" textLength="31.5" lengthAdjust="spacingAndGlyphs">Stat3β</tspan><tspan x="458.10" y="700.56" font-size="6.5" textLength="8.7" lengthAdjust="spacingAndGlyphs" stroke="none">TG</tspan></text>
<g clip-path="url(#clipL1)">
<rect x="51" y="713" width="149" height="121" filter="url(#texL1)"/>

</g>
<g clip-path="url(#clipL2)">
<rect x="204" y="713" width="148" height="121" filter="url(#texL2)"/>
<rect x="204" y="713" width="148" height="121" filter="url(#texD)" mask="url(#mL2)"/>
</g>
<g clip-path="url(#clipL3)">
<rect x="355" y="713" width="148" height="121" filter="url(#texL3)"/>

</g>
<g clip-path="url(#clipS1)">
<rect x="51" y="839" width="149" height="121" filter="url(#texS1)"/>
<rect x="51" y="839" width="149" height="121" filter="url(#texSP)" mask="url(#mSpk)"/><rect x="51" y="839" width="149" height="121" filter="url(#texSL)" mask="url(#mS1l)"/><rect x="51" y="839" width="149" height="121" filter="url(#texSD)" mask="url(#mS1d)"/><rect x="51" y="839" width="149" height="121" filter="url(#texSP)" mask="url(#mS1p)"/>
</g>
<g clip-path="url(#clipS2)">
<rect x="204" y="839" width="148" height="121" filter="url(#texS2)"/>
<rect x="204" y="839" width="148" height="121" filter="url(#texSP)" mask="url(#mSpk)"/><rect x="204" y="839" width="148" height="121" filter="url(#texSD)" mask="url(#mSdk)"/><rect x="204" y="839" width="148" height="121" filter="url(#texSD)" mask="url(#mS2d)"/>
</g>
<g clip-path="url(#clipS3)">
<rect x="355" y="839" width="148" height="121" filter="url(#texS3)"/>
<rect x="355" y="839" width="148" height="121" filter="url(#texSP)" mask="url(#mSpk)"/><rect x="355" y="839" width="148" height="121" filter="url(#texSD)" mask="url(#mS3d)"/><rect x="355" y="839" width="148" height="121" filter="url(#texSP)" mask="url(#mS3p)"/>
</g>
<path d="M142.7,784.2 L146.2,781.3 L150.8,778.5 L156.5,777.3 L161.2,778.5 L164.6,780.2 L169.2,783.1 L172.7,786.5 L173.8,790 L172.7,793.5 L169.8,798.1 L165.8,801.5 L161.2,805 L156.5,808.5 L151.9,811.9 L148.5,813.7 L145,813.1 L143.3,809.6 L142.7,805 L142.1,798.1 L141.5,791.2 Z" fill="#fdfbfd" filter="url(#blur1)"/>
<circle cx="161.2" cy="771.5" r="2.6" fill="#fbf8fb" stroke="#3c2f70" stroke-width="1.2"/>
<circle cx="167" cy="782.5" r="1" fill="#c03a5e"/><circle cx="169.5" cy="786" r="1.3" fill="#b8305a"/><circle cx="171" cy="788.5" r="1" fill="#c04468"/><circle cx="165" cy="781" r="0.8" fill="#c85070"/>
<path d="M169.2,798 L176,799 L184,801.5 L190,803.8" stroke="#5a3a80" stroke-width="1.3" fill="none"/>
<path d="M148.5,813.7 L146,818 L144,822" stroke="#5a4a90" stroke-width="1" fill="none"/>
<path d="M264.5,778.5 L268,777.8 L275,782 L284,789 L300,803 L315,816 L330.5,829.5 L329,832.5 L314,821 L300,808.5 L287,798.5 L276,792.5 L268,787 L264.5,781 Z" fill="#fdfbfd" filter="url(#blur1)"/>
<path d="M324,781.5 L330.5,787.5" stroke="#f6f0f8" stroke-width="2" stroke-linecap="round"/>
<ellipse cx="386" cy="783.5" rx="6.4" ry="15" transform="rotate(35 386 783.5)" fill="#fbf7fa" filter="url(#blur1)"/><ellipse cx="383.5" cy="793" rx="4" ry="2.5" transform="rotate(-30 383.5 793)" fill="#d06080" opacity="0.6" filter="url(#blur1)"/><circle cx="393.8" cy="788.8" r="2.4" fill="#fbf7fa"/><circle cx="385.2" cy="766.3" r="1.6" fill="#fbf7fa" stroke="#5a4a90" stroke-width="0.8"/><ellipse cx="370" cy="805" rx="6" ry="4" fill="#4a3a85" opacity="0.45" filter="url(#blur1)"/><path d="M377.5,808 L384,800.4" stroke="#5a4a90" stroke-width="0.9"/>
<ellipse cx="462.4" cy="798.6" rx="3" ry="5" transform="rotate(-15 462.4 798.6)" fill="#fbf7fa" filter="url(#blur1)"/>
<path d="M247,946 L262,939 L268,941 L252,947 Z" fill="#f4eef6" filter="url(#blur1)"/>

<text x="57.9" y="825.4" font-size="9.2" font-weight="bold" fill="#111" textLength="29.4" lengthAdjust="spacingAndGlyphs">100µm</text>
<line x1="57.9" y1="828.5" x2="83.9" y2="828.5" stroke="#111" stroke-width="1.5"/>
<text x="210.3" y="825.2" font-size="9.2" font-weight="bold" fill="#111" textLength="29.4" lengthAdjust="spacingAndGlyphs">100µm</text>
<line x1="210.3" y1="828.3" x2="236.3" y2="828.3" stroke="#111" stroke-width="1.5"/>
<text x="362.1" y="825.2" font-size="9.2" font-weight="bold" fill="#111" textLength="29.4" lengthAdjust="spacingAndGlyphs">100µm</text>
<line x1="362.1" y1="828.3" x2="388.1" y2="828.3" stroke="#111" stroke-width="1.5"/>
<text x="59.0" y="951.7" font-size="9.2" font-weight="bold" fill="#111" textLength="29.4" lengthAdjust="spacingAndGlyphs">100µm</text>
<line x1="59.0" y1="954.8" x2="85.0" y2="954.8" stroke="#111" stroke-width="1.5"/>
<text x="210.8" y="951.7" font-size="9.2" font-weight="bold" fill="#111" textLength="29.4" lengthAdjust="spacingAndGlyphs">100µm</text>
<line x1="210.8" y1="954.8" x2="236.8" y2="954.8" stroke="#111" stroke-width="1.5"/>
<text x="362.5" y="951.7" font-size="9.2" font-weight="bold" fill="#111" textLength="29.4" lengthAdjust="spacingAndGlyphs">100µm</text>
<line x1="362.5" y1="954.8" x2="388.5" y2="954.8" stroke="#111" stroke-width="1.5"/>
<text transform="translate(43.2,775.2) rotate(-90)" font-size="12" text-anchor="middle" textLength="25.3" lengthAdjust="spacingAndGlyphs">Liver</text>
<text transform="translate(43.2,907.4) rotate(-90)" font-size="12" text-anchor="middle" textLength="35.1" lengthAdjust="spacingAndGlyphs">Spleen</text>
</svg>
</body></html>
